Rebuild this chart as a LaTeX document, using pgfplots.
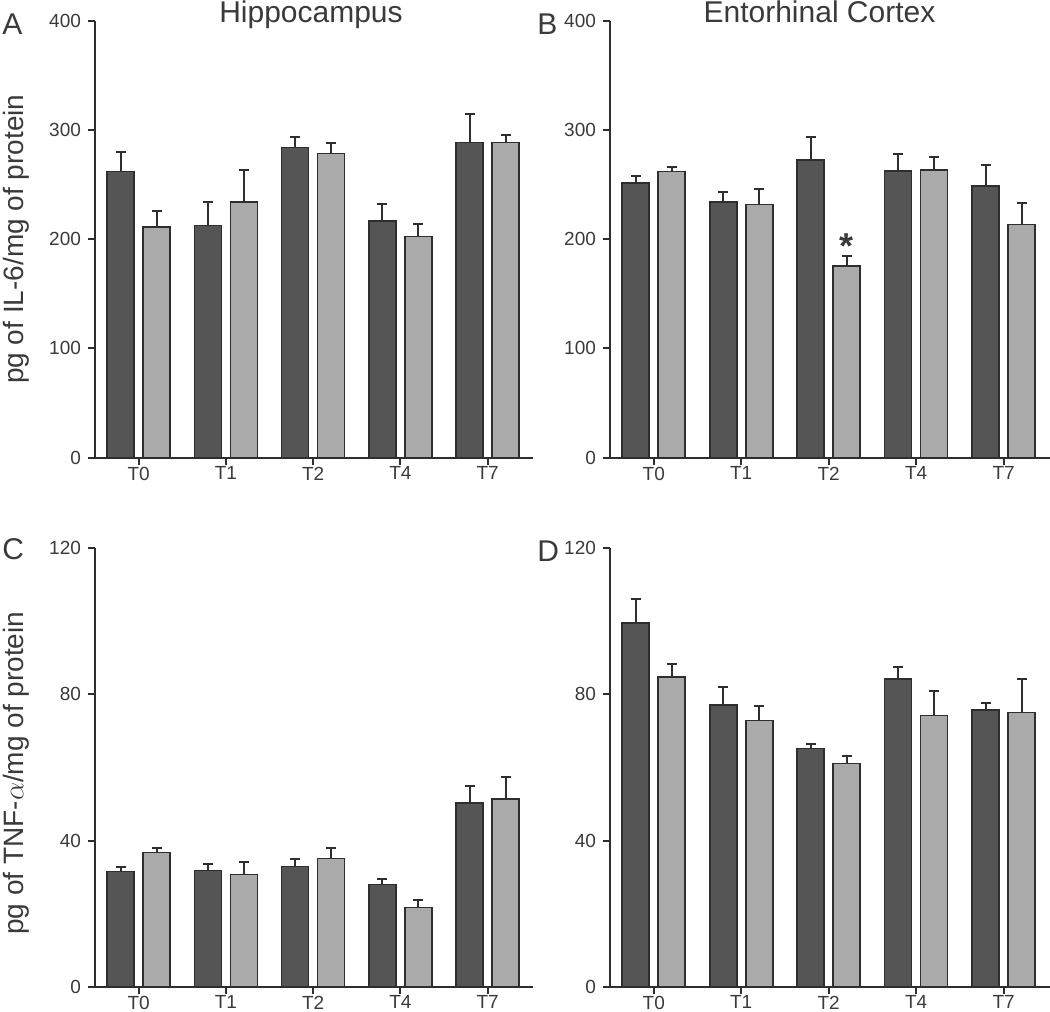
\documentclass[border=0pt]{standalone}
\usepackage{pgfplots}
\pgfplotsset{compat=1.18}
\usepackage{pgfplotstable}
\usepackage{fontspec}
\setmainfont{Liberation Sans}

\definecolor{bardark}{HTML}{555555}
\definecolor{barlight}{HTML}{AAAAAA}
\definecolor{ink}{HTML}{2E2E2E}
\definecolor{txt}{HTML}{3A3A3A}

% x: 0..4 = T0 T1 T2 T4 T7 ; v = mean, e = upper error
\pgfplotstableread{
x v e
0 262.1 18.0
1 212.4 21.3
2 283.8 9.7
3 216.6 15.9
4 288.6 25.7
}\hipILdark
\pgfplotstableread{
x v e
0 211.1 14.4
1 234.3 29.0
2 278.3 9.4
3 202.6 11.6
4 288.6 7.1
}\hipILlight
\pgfplotstableread{
x v e
0 251.4 6.7
1 234.3 8.9
2 272.5 21.3
3 262.4 15.6
4 248.7 18.9
}\entILdark
\pgfplotstableread{
x v e
0 261.8 4.6
1 231.6 14.6
2 175.4 8.9
3 263.3 12.2
4 213.3 19.5
}\entILlight
\pgfplotstableread{
x v e
0 31.5 1.4
1 31.8 1.9
2 32.9 2.0
3 28.0 1.5
4 50.3 4.6
}\hipTNFdark
\pgfplotstableread{
x v e
0 36.7 1.2
1 30.7 3.3
2 35.1 3.0
3 21.7 2.0
4 51.4 6.0
}\hipTNFlight
\pgfplotstableread{
x v e
0 99.6 6.4
1 77.1 4.8
2 65.2 1.3
3 84.3 3.3
4 75.7 2.0
}\entTNFdark
\pgfplotstableread{
x v e
0 84.7 3.7
1 72.9 4.0
2 61.1 2.1
3 74.2 6.7
4 75.1 9.0
}\entTNFlight

\pgfplotsset{
  panel/.style={
    scale only axis, width=219pt, height=218.5pt,
    xmin=-0.5, xmax=4.52, ymin=0,
    axis x line*=bottom, axis y line*=left,
    axis line style={ink, line width=1pt, -},
    xtick={0,1,2,3,4}, xticklabels={T0,T1,T2,T4,T7},
    tick align=outside, major tick length=3.5pt,
    tick style={ink, line width=1pt},
    tick label style={font=\fontsize{9.5}{11}\selectfont, text=txt},
    xticklabel style={yshift=2.5pt},
    /pgf/number format/assume math mode=true,
    ybar=4.5pt, bar width=13.5pt,
    clip=false,
    ylabel style={font=\fontsize{14}{16}\selectfont, text=txt,
      at={(axis description cs:-0.18,0.5)}, anchor=center},
  },
  grp/.style={draw=ink, line width=0.8pt, fill=#1,
    error bars/.cd, y dir=plus, y explicit,
    error bar style={draw=ink, line width=1pt},
    error mark options={rotate=90, mark size=2.5pt, line width=1pt, draw=ink}},
}

\begin{document}
\begin{tikzpicture}
\useasboundingbox (0,0) rectangle (525pt,506pt);

\begin{axis}[panel, at={(47.5pt,277.15pt)}, anchor=south west,
  ymax=400, ytick={0,100,200,300,400},
  ylabel={pg of IL-6/mg of protein}]
\addplot[grp=bardark] table[x=x, y=v, y error=e] {\hipILdark};
\addplot[grp=barlight] table[x=x, y=v, y error=e] {\hipILlight};
\end{axis}

\begin{axis}[panel, at={(305pt,277.15pt)}, anchor=south west,
  width=220pt, xmax=4.53,
  ymax=400, ytick={0,100,200,300,400}]
\addplot[grp=bardark] table[x=x, y=v, y error=e] {\entILdark};
\addplot[grp=barlight] table[x=x, y=v, y error=e] {\entILlight};
\node[anchor=base, font=\fontsize{18}{20}\selectfont\bfseries, text=txt, xshift=9pt]
  at (axis cs:2,182) {*};
\end{axis}

\begin{axis}[panel, at={(47.5pt,12.65pt)}, anchor=south west,
  height=219.2pt, ymax=120, ytick={0,40,80,120},
  ylabel={pg of TNF-$\alpha$/mg of protein},
  ylabel style={at={(axis description cs:-0.18,0.487)}}]
\addplot[grp=bardark] table[x=x, y=v, y error=e] {\hipTNFdark};
\addplot[grp=barlight] table[x=x, y=v, y error=e] {\hipTNFlight};
\end{axis}

\begin{axis}[panel, at={(305pt,12.65pt)}, anchor=south west,
  width=220pt, xmax=4.53,
  height=219.2pt, ymax=120, ytick={0,40,80,120}]
\addplot[grp=bardark] table[x=x, y=v, y error=e] {\entTNFdark};
\addplot[grp=barlight] table[x=x, y=v, y error=e] {\entTNFlight};
\end{axis}

\node[anchor=base, font=\fontsize{15}{18}\selectfont, text=txt] at (155.5pt,494.5pt) {Hippocampus};
\node[anchor=base, font=\fontsize{15}{18}\selectfont, text=txt] at (409.75pt,494.5pt) {Entorhinal Cortex};
\node[anchor=base west, inner sep=0pt, font=\fontsize{15}{18}\selectfont, text=txt] at (1pt,488.5pt) {A};
\node[anchor=base west, inner sep=0pt, font=\fontsize{15}{18}\selectfont, text=txt] at (268.5pt,488.5pt) {B};
\node[anchor=base west, inner sep=0pt, font=\fontsize{15}{18}\selectfont, text=txt] at (1pt,226pt) {C};
\node[anchor=base west, inner sep=0pt, font=\fontsize{15}{18}\selectfont, text=txt] at (268.5pt,225pt) {D};
\end{tikzpicture}
\end{document}
